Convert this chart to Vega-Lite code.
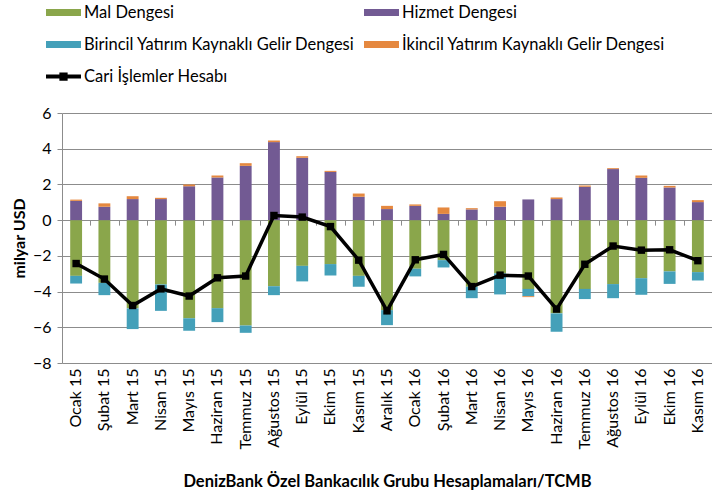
{
  "$schema": "https://vega.github.io/schema/vega-lite/v6.json",
  "width": 650,
  "height": 250,
  "autosize": "none",
  "padding": {"left": 62, "top": 113, "right": 0, "bottom": 130},
  "config": {
    "view": {"stroke": null},
    "font": "Lato",
    "axis": {"labelFont": "Lato", "titleFont": "Lato", "labelColor": "#000000", "titleColor": "#000000", "labelFontSize": 16, "titleFontSize": 16, "titleFontWeight": "bold", "gridColor": "#8c8c8c", "domainColor": "#8c8c8c", "tickColor": "#8c8c8c"}
  },
  "data": {
    "values": [
      {"m": "Ocak 15", "Mal Dengesi": -3.12, "Hizmet Dengesi": 1.08, "Birincil Yatırım Kaynaklı Gelir Dengesi": -0.43, "İkincil Yatırım Kaynaklı Gelir Dengesi": 0.07, "Cari İşlemler Hesabı": -2.43},
      {"m": "Şubat 15", "Mal Dengesi": -3.51, "Hizmet Dengesi": 0.75, "Birincil Yatırım Kaynaklı Gelir Dengesi": -0.69, "İkincil Yatırım Kaynaklı Gelir Dengesi": 0.19, "Cari İşlemler Hesabı": -3.3},
      {"m": "Mart 15", "Mal Dengesi": -4.94, "Hizmet Dengesi": 1.18, "Birincil Yatırım Kaynaklı Gelir Dengesi": -1.16, "İkincil Yatırım Kaynaklı Gelir Dengesi": 0.16, "Cari İşlemler Hesabı": -4.78},
      {"m": "Nisan 15", "Mal Dengesi": -3.6, "Hizmet Dengesi": 1.18, "Birincil Yatırım Kaynaklı Gelir Dengesi": -1.48, "İkincil Yatırım Kaynaklı Gelir Dengesi": 0.07, "Cari İşlemler Hesabı": -3.85},
      {"m": "Mayıs 15", "Mal Dengesi": -5.5, "Hizmet Dengesi": 1.9, "Birincil Yatırım Kaynaklı Gelir Dengesi": -0.7, "İkincil Yatırım Kaynaklı Gelir Dengesi": 0.1, "Cari İşlemler Hesabı": -4.25},
      {"m": "Haziran 15", "Mal Dengesi": -4.93, "Hizmet Dengesi": 2.39, "Birincil Yatırım Kaynaklı Gelir Dengesi": -0.78, "İkincil Yatırım Kaynaklı Gelir Dengesi": 0.11, "Cari İşlemler Hesabı": -3.23},
      {"m": "Temmuz 15", "Mal Dengesi": -5.9, "Hizmet Dengesi": 3.04, "Birincil Yatırım Kaynaklı Gelir Dengesi": -0.41, "İkincil Yatırım Kaynaklı Gelir Dengesi": 0.15, "Cari İşlemler Hesabı": -3.13},
      {"m": "Ağustos 15", "Mal Dengesi": -3.7, "Hizmet Dengesi": 4.37, "Birincil Yatırım Kaynaklı Gelir Dengesi": -0.5, "İkincil Yatırım Kaynaklı Gelir Dengesi": 0.09, "Cari İşlemler Hesabı": 0.26},
      {"m": "Eylül 15", "Mal Dengesi": -2.56, "Hizmet Dengesi": 3.49, "Birincil Yatırım Kaynaklı Gelir Dengesi": -0.87, "İkincil Yatırım Kaynaklı Gelir Dengesi": 0.09, "Cari İşlemler Hesabı": 0.17},
      {"m": "Ekim 15", "Mal Dengesi": -2.46, "Hizmet Dengesi": 2.7, "Birincil Yatırım Kaynaklı Gelir Dengesi": -0.64, "İkincil Yatırım Kaynaklı Gelir Dengesi": 0.06, "Cari İşlemler Hesabı": -0.36},
      {"m": "Kasım 15", "Mal Dengesi": -3.12, "Hizmet Dengesi": 1.31, "Birincil Yatırım Kaynaklı Gelir Dengesi": -0.61, "İkincil Yatırım Kaynaklı Gelir Dengesi": 0.18, "Cari İşlemler Hesabı": -2.24},
      {"m": "Aralık 15", "Mal Dengesi": -5.04, "Hizmet Dengesi": 0.62, "Birincil Yatırım Kaynaklı Gelir Dengesi": -0.84, "İkincil Yatırım Kaynaklı Gelir Dengesi": 0.18, "Cari İşlemler Hesabı": -5.08},
      {"m": "Ocak 16", "Mal Dengesi": -2.72, "Hizmet Dengesi": 0.8, "Birincil Yatırım Kaynaklı Gelir Dengesi": -0.43, "İkincil Yatırım Kaynaklı Gelir Dengesi": 0.08, "Cari İşlemler Hesabı": -2.22},
      {"m": "Şubat 16", "Mal Dengesi": -2.24, "Hizmet Dengesi": 0.35, "Birincil Yatırım Kaynaklı Gelir Dengesi": -0.41, "İkincil Yatırım Kaynaklı Gelir Dengesi": 0.36, "Cari İşlemler Hesabı": -1.92},
      {"m": "Mart 16", "Mal Dengesi": -3.73, "Hizmet Dengesi": 0.6, "Birincil Yatırım Kaynaklı Gelir Dengesi": -0.64, "İkincil Yatırım Kaynaklı Gelir Dengesi": 0.07, "Cari İşlemler Hesabı": -3.72},
      {"m": "Nisan 16", "Mal Dengesi": -2.98, "Hizmet Dengesi": 0.75, "Birincil Yatırım Kaynaklı Gelir Dengesi": -1.18, "İkincil Yatırım Kaynaklı Gelir Dengesi": 0.31, "Cari İşlemler Hesabı": -3.08},
      {"m": "Mayıs 16", "Mal Dengesi": -3.85, "Hizmet Dengesi": 1.16, "Birincil Yatırım Kaynaklı Gelir Dengesi": -0.41, "İkincil Yatırım Kaynaklı Gelir Dengesi": -0.05, "Cari İşlemler Hesabı": -3.13},
      {"m": "Haziran 16", "Mal Dengesi": -5.22, "Hizmet Dengesi": 1.18, "Birincil Yatırım Kaynaklı Gelir Dengesi": -1.03, "İkincil Yatırım Kaynaklı Gelir Dengesi": 0.09, "Cari İşlemler Hesabı": -4.98},
      {"m": "Temmuz 16", "Mal Dengesi": -3.85, "Hizmet Dengesi": 1.87, "Birincil Yatırım Kaynaklı Gelir Dengesi": -0.57, "İkincil Yatırım Kaynaklı Gelir Dengesi": 0.07, "Cari İşlemler Hesabı": -2.47},
      {"m": "Ağustos 16", "Mal Dengesi": -3.58, "Hizmet Dengesi": 2.86, "Birincil Yatırım Kaynaklı Gelir Dengesi": -0.79, "İkincil Yatırım Kaynaklı Gelir Dengesi": 0.05, "Cari İşlemler Hesabı": -1.45},
      {"m": "Eylül 16", "Mal Dengesi": -3.25, "Hizmet Dengesi": 2.37, "Birincil Yatırım Kaynaklı Gelir Dengesi": -0.93, "İkincil Yatırım Kaynaklı Gelir Dengesi": 0.13, "Cari İşlemler Hesabı": -1.68},
      {"m": "Ekim 16", "Mal Dengesi": -2.87, "Hizmet Dengesi": 1.83, "Birincil Yatırım Kaynaklı Gelir Dengesi": -0.7, "İkincil Yatırım Kaynaklı Gelir Dengesi": 0.09, "Cari İşlemler Hesabı": -1.66},
      {"m": "Kasım 16", "Mal Dengesi": -2.91, "Hizmet Dengesi": 1.01, "Birincil Yatırım Kaynaklı Gelir Dengesi": -0.47, "İkincil Yatırım Kaynaklı Gelir Dengesi": 0.11, "Cari İşlemler Hesabı": -2.27}
    ]
  },
  "layer": [
    {
      "transform": [
        {"fold": ["Mal Dengesi", "Hizmet Dengesi", "Birincil Yatırım Kaynaklı Gelir Dengesi", "İkincil Yatırım Kaynaklı Gelir Dengesi"], "as": ["k", "v"]},
        {"calculate": "indexof(['Mal Dengesi', 'Hizmet Dengesi', 'Birincil Yatırım Kaynaklı Gelir Dengesi', 'İkincil Yatırım Kaynaklı Gelir Dengesi'], datum.k)", "as": "o"}
      ],
      "mark": {"type": "bar", "width": {"band": 0.42}},
      "encoding": {
        "x": {"field": "m", "type": "nominal", "sort": null, "scale": {"paddingInner": 0, "paddingOuter": 0},
          "axis": {"orient": "bottom", "title": "DenizBank Özel Bankacılık Grubu Hesaplamaları/TCMB", "titleFontSize": 16.5, "labelAngle": -90, "labelPadding": 5, "ticks": false, "domain": false, "titlePadding": 24}},
        "y": {"field": "v", "type": "quantitative", "stack": "zero", "scale": {"domain": [-8, 6], "nice": false},
          "axis": {"values": [-8, -6, -4, -2, 0, 2, 4, 6], "title": "milyar USD", "tickSize": 5, "labelPadding": 6, "titlePadding": 5, "grid": true}},
        "color": {"field": "k", "type": "nominal",
          "scale": {"domain": ["Mal Dengesi", "Hizmet Dengesi", "Birincil Yatırım Kaynaklı Gelir Dengesi", "İkincil Yatırım Kaynaklı Gelir Dengesi", "Cari İşlemler Hesabı"], "range": ["#8aa64b", "#725a93", "#44a0b9", "#e5883f", "#000000"]},
          "legend": {"title": null, "orient": "none", "legendX": -15, "legendY": -117, "direction": "horizontal", "columns": 2, "padding": 0, "columnPadding": 9, "rowPadding": 7, "labelFont": "Lato", "labelFontSize": 16.5, "labelColor": "#000000", "labelOffset": 4, "labelLimit": 400, "symbolSize": 1089,
            "encode": {"symbols": {"update": {
              "shape": {"signal": "datum.value == 'Cari İşlemler Hesabı' ? 'M-1.06,-0.12H1.06V0.12H-1.06ZM-0.25,-0.25H0.25V0.25H-0.25Z' : 'M-1.06,-0.21H1.06V0.21H-1.06Z'"},
              "fill": {"scale": "color", "field": "value"},
              "stroke": {"value": "transparent"},
              "strokeWidth": {"value": 0},
              "opacity": {"value": 1}
            }}}}},
        "order": {"field": "o"}
      }
    },
    {
      "mark": {"type": "line", "strokeWidth": 3.5, "point": {"shape": "square", "size": 55, "filled": true, "color": "#000000"}},
      "encoding": {
        "x": {"field": "m", "type": "nominal", "sort": null,
          "axis": {"orient": "top", "offset": -107.14, "labels": false, "title": null, "domain": false, "ticks": true, "tickBand": "extent", "tickSize": -5, "tickColor": "#8c8c8c", "tickWidth": 1}},
        "y": {"field": "Cari İşlemler Hesabı", "type": "quantitative",
          "axis": {"values": [-8, -6, -4, -2, 0, 2, 4, 6], "title": "milyar USD", "tickSize": 5, "labelPadding": 6, "titlePadding": 5, "grid": true}},
        "color": {"datum": "Cari İşlemler Hesabı"}
      }
    }
  ],
  "resolve": {"axis": {"x": "independent"}}
}
